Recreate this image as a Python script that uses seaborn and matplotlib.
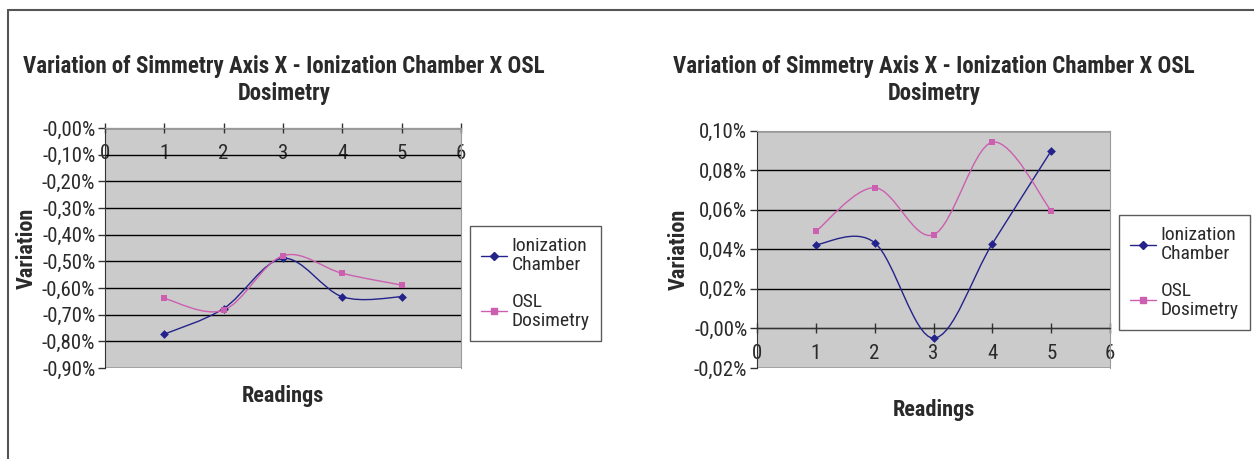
import numpy as np
import matplotlib
matplotlib.use("Agg")
import matplotlib.pyplot as plt
from matplotlib.path import Path
from matplotlib.patches import PathPatch
from matplotlib.lines import Line2D
from matplotlib.ticker import FixedLocator, FixedFormatter
import seaborn as sns

# ---- data (values in %) ----
readings = [1, 2, 3, 4, 5]

axis_x_chamber = [-0.773, -0.677, -0.489, -0.633, -0.633]
axis_x_osl = [-0.639, -0.683, -0.479, -0.545, -0.589]

axis_y_chamber = [0.0423, 0.0433, -0.0049, 0.0428, 0.0897]
axis_y_osl = [0.0490, 0.0711, 0.0473, 0.0941, 0.0594]

title = "Variation of Simmetry Axis X - Ionization Chamber X OSL\nDosimetry"
series_names = ["Ionization\nChamber", "OSL\nDosimetry"]

left_yticks = [0, -0.1, -0.2, -0.3, -0.4, -0.5, -0.6, -0.7, -0.8, -0.9]
left_ylabels = ["-0,00%", "-0,10%", "-0,20%", "-0,30%", "-0,40%",
                "-0,50%", "-0,60%", "-0,70%", "-0,80%", "-0,90%"]
right_yticks = [0.10, 0.08, 0.06, 0.04, 0.02, 0.0, -0.02]
right_ylabels = ["0,10%", "0,08%", "0,06%", "0,04%", "0,02%", "-0,00%", "-0,02%"]
xticks = [0, 1, 2, 3, 4, 5, 6]

BLUE = "#23238a"
PINK = "#cc5fb0"
BG = "#cbcbcb"
TXT = "#2a2a2a"

sns.set_style("white")
plt.rcParams['font.family'] = ['Roboto Condensed', 'Liberation Sans Narrow',
                               'Liberation Sans', 'DejaVu Sans']


def smooth_path(xs, ys):
    # Excel-style smoothed line: cubic bezier segments through the points
    pts = np.column_stack([xs, ys]).astype(float)
    n = len(pts)
    verts = [pts[0]]
    codes = [Path.MOVETO]
    for i in range(n - 1):
        p0, p3 = pts[i], pts[i + 1]
        pm = pts[i - 1] if i > 0 else p0
        p4 = pts[i + 2] if i + 2 < n else p3
        c1 = p0 + (p3 - pm) / 6.0
        c2 = p3 - (p4 - p0) / 6.0
        verts += [c1, c2, p3]
        codes += [Path.CURVE4] * 3
    return Path(verts, codes)


def draw_chart(ax, chamber, osl, yticks, ylabels, ylim, leg_pos, xlab_y):
    ax.set_facecolor(BG)
    for ys, color, marker, size in [(chamber, BLUE, 'D', 20), (osl, PINK, 's', 24)]:
        ax.add_patch(PathPatch(smooth_path(readings, ys), fill=False,
                               edgecolor=color, lw=1.0, zorder=3))
        sns.scatterplot(x=readings, y=ys, ax=ax, marker=marker, s=size,
                        color=color, edgecolor=color, linewidth=0, zorder=4)
    ax.set_xlim(0, 6)
    ax.set_ylim(*ylim)
    ax.yaxis.set_major_locator(FixedLocator(yticks))
    ax.yaxis.set_major_formatter(FixedFormatter(ylabels))
    ax.xaxis.set_major_locator(FixedLocator(xticks))
    ax.grid(axis='y', color='black', lw=1.0)
    ax.grid(axis='x', visible=False)
    ax.set_axisbelow(True)
    ax.spines['bottom'].set_position(('data', 0))
    ax.spines['bottom'].set_color('#333333')
    ax.spines['left'].set_color('#333333')
    ax.spines['top'].set_color('#999999')
    ax.spines['right'].set_color('#999999')
    ax.tick_params(axis='y', direction='out', length=5, width=1, color='#333333',
                   labelsize=15, labelcolor=TXT, pad=2, left=True)
    ax.tick_params(axis='x', direction='inout', length=7, width=1, color='#333333',
                   labelsize=15, labelcolor=TXT, pad=8, bottom=True)
    ax.set_xlabel("Readings", fontsize=16, fontweight='bold', color=TXT)
    ax.xaxis.set_label_coords(0.5, xlab_y)
    ax.set_ylabel("Variation", fontsize=16, fontweight='bold', color=TXT)
    ax.yaxis.set_label_coords(-0.19, 0.5)
    handles = [Line2D([], [], color=BLUE, marker='D', markersize=4.5, lw=1),
               Line2D([], [], color=PINK, marker='s', markersize=5, lw=1)]
    leg = ax.legend(handles, series_names, loc='upper left',
                    bbox_to_anchor=leg_pos, bbox_transform=fig.transFigure,
                    fontsize=14, frameon=True, fancybox=False, handlelength=1.35,
                    handletextpad=0.25, labelspacing=0.95, borderpad=0.55,
                    borderaxespad=0)
    leg.get_frame().set_edgecolor('#333333')
    leg.get_frame().set_linewidth(1.0)
    for t in leg.get_texts():
        t.set_color(TXT)
        t.set_linespacing(1.1)


fig = plt.figure(figsize=(12.54, 4.59), dpi=100)
ax1 = fig.add_axes([105 / 1254, 1 - 368 / 459, 356 / 1254, 240 / 459])
ax2 = fig.add_axes([757 / 1254, 1 - 368 / 459, 353 / 1254, 237.5 / 459])

draw_chart(ax1, axis_x_chamber, axis_x_osl, left_yticks, left_ylabels,
           (-0.9, 0.0), (470 / 1254, 1 - 226 / 459), -0.071)
draw_chart(ax2, axis_y_chamber, axis_y_osl, right_yticks, right_ylabels,
           (-0.02, 0.10), (1119 / 1254, 1 - 215 / 459), -0.129)

for cx in (284, 934):
    fig.text(cx / 1254, 1 - 80 / 459, title, ha='center', va='center',
             fontsize=16.5, fontweight='bold', color=TXT, linespacing=1.25)

# outer frame (top and left edges)
fig.add_artist(Line2D([8 / 1254, 1], [1 - 10 / 459, 1 - 10 / 459],
                      transform=fig.transFigure, color='#555555', lw=1.5))
fig.add_artist(Line2D([8 / 1254, 8 / 1254], [1 - 10 / 459, 0],
                      transform=fig.transFigure, color='#555555', lw=1.5))

fig.savefig("out.png", dpi=100, facecolor='white')
